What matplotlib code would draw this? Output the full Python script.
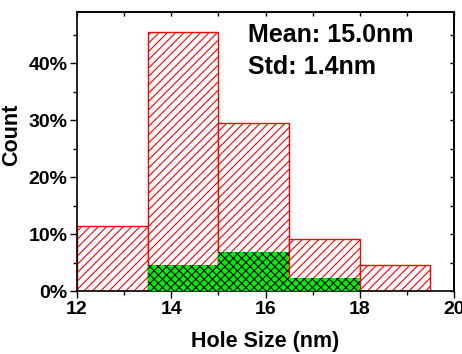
import matplotlib
matplotlib.use("Agg")
import matplotlib.pyplot as plt
from matplotlib.ticker import MultipleLocator, FuncFormatter

# Hole-size distribution (percent of holes per 1.5 nm bin)
bin_left = [12.0, 13.5, 15.0, 16.5, 18.0]
bin_width = 1.5
all_pct = [11.36, 45.45, 29.55, 9.09, 4.55]
sub_left = [13.5, 15.0, 16.5]
sub_pct = [4.55, 6.82, 2.27]

mean_label = "Mean: 15.0nm"
std_label = "Std: 1.4nm"
x_label = "Hole Size (nm)"
y_label = "Count"

plt.rcParams["font.family"] = ["Liberation Sans", "DejaVu Sans"]
plt.rcParams["font.weight"] = "bold"
plt.rcParams["hatch.linewidth"] = 0.8

fig = plt.figure(figsize=(4.62, 3.54), dpi=100)
ax = fig.add_axes([77 / 462, 1 - 291 / 354, (454 - 77) / 462, (291 - 12) / 354])

ax.bar(bin_left, all_pct, width=bin_width, align="edge",
       facecolor="white", edgecolor="#ff0000", hatch="////", linewidth=1.0, zorder=2)
ax.bar(sub_left, sub_pct, width=bin_width, align="edge",
       facecolor="#00f000", edgecolor="none", linewidth=0, zorder=3)
ax.bar(sub_left, sub_pct, width=bin_width, align="edge",
       facecolor="none", edgecolor="black", hatch="xxxx", linewidth=0, zorder=4)

ax.set_xlim(12, 20)
ax.set_ylim(0, 49)

ax.xaxis.set_major_locator(MultipleLocator(2))
ax.xaxis.set_minor_locator(MultipleLocator(1))
ax.yaxis.set_major_locator(MultipleLocator(10))
ax.yaxis.set_minor_locator(MultipleLocator(5))
ax.yaxis.set_major_formatter(FuncFormatter(lambda v, p: f"{v:.0f}%"))

ax.tick_params(which="both", direction="out", width=1.0, labelsize=14)
ax.tick_params(which="major", length=5, pad=2)
ax.tick_params(which="minor", length=3)
for sp in ax.spines.values():
    sp.set_linewidth(1.2)

# mirrored inward ticks on top and right
top = ax.secondary_xaxis("top")
top.xaxis.set_major_locator(MultipleLocator(1))
top.tick_params(direction="in", length=3, width=1.0, labeltop=False)
top.spines["top"].set_linewidth(1.2)
right = ax.secondary_yaxis("right")
right.yaxis.set_major_locator(MultipleLocator(5))
right.tick_params(direction="in", length=3, width=1.0, labelright=False)
right.spines["right"].set_linewidth(1.2)

fig.text(248 / 462, 1 - 42 / 354, mean_label, fontsize=18, fontweight="bold", va="baseline")
fig.text(248 / 462, 1 - 74 / 354, std_label, fontsize=18, fontweight="bold", va="baseline")

fig.text(265.5 / 462, 1 - 347 / 354, x_label, fontsize=15.5, fontweight="bold",
         ha="center", va="baseline")
fig.text(12 / 462, 1 - 135 / 354, y_label, fontsize=15.5, fontweight="bold",
         ha="center", va="center", rotation=90)

fig.savefig("out.png", dpi=100)
